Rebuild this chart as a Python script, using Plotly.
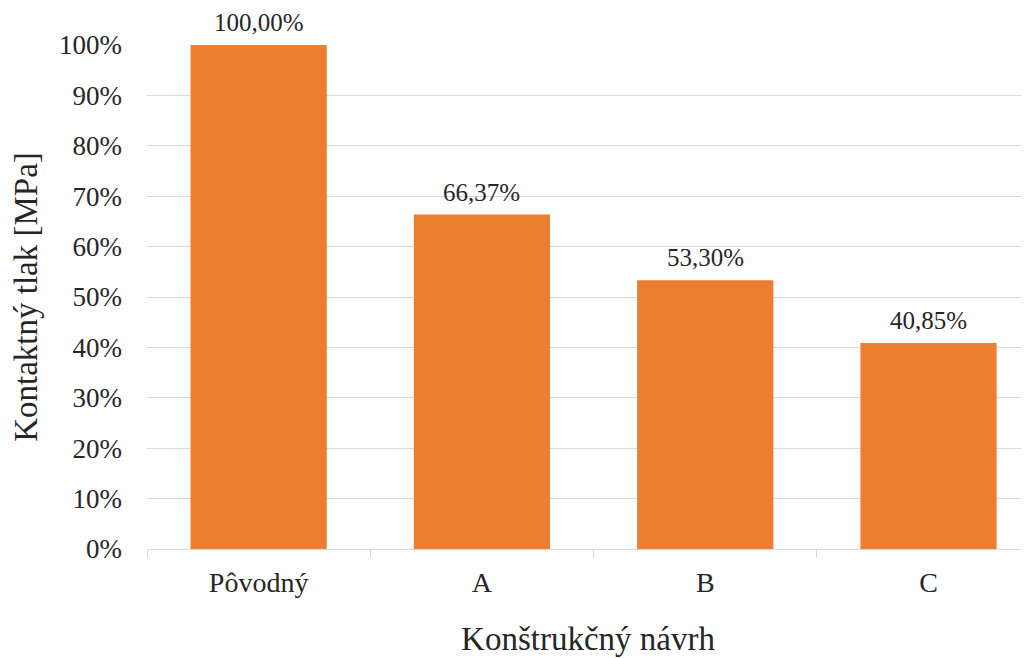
import plotly.graph_objects as go

categories = ["Pôvodný", "A", "B", "C"]
values = [1.0000, 0.6637, 0.5330, 0.4085]
y_ticks = [0, 0.1, 0.2, 0.3, 0.4, 0.5, 0.6, 0.7, 0.8, 0.9, 1.0]

FONT = "'Liberation Serif', 'Times New Roman', Tinos, serif"
TXT = "#262626"

fig = go.Figure(
    go.Bar(
        x=categories,
        y=values,
        marker=dict(color="#ED7D31", line=dict(width=0)),
        cliponaxis=False,
    )
)

for c, v in zip(categories, values):
    fig.add_annotation(
        x=c, y=v, xref="x", yref="y",
        text=f"{v * 100:.2f}%".replace(".", ","),
        showarrow=False, yanchor="bottom", yshift=7,
        font=dict(family=FONT, size=25, color=TXT),
    )

fig.update_layout(
    width=1021,
    height=650,
    margin=dict(l=139, r=0, t=37, b=109),
    paper_bgcolor="white",
    plot_bgcolor="white",
    separators=", ",
    bargap=0.39,
    showlegend=False,
    font=dict(family=FONT, color=TXT),
)

fig.update_xaxes(
    range=[-0.5, 3.45],
    showgrid=False,
    showline=True,
    linecolor="#d9d9d9",
    linewidth=1,
    ticks="outside",
    tickson="boundaries",
    ticklen=8,
    tickcolor="#d9d9d9",
    ticklabelstandoff=8,
    tickfont=dict(family=FONT, size=28, color=TXT),
    title=dict(text="Konštrukčný návrh", font=dict(family=FONT, size=33, color=TXT), standoff=30),
)

fig.update_yaxes(
    range=[0, 1],
    tickvals=y_ticks,
    tickformat=".0%",
    showgrid=True,
    gridcolor="#d9d9d9",
    gridwidth=1,
    zeroline=False,
    showline=False,
    ticks="",
    ticklabelstandoff=24,
    tickfont=dict(family=FONT, size=27, color=TXT),
    title=dict(text="Kontaktný tlak [MPa]", font=dict(family=FONT, size=33, color=TXT), standoff=12),
)

fig.write_html("out.html")
